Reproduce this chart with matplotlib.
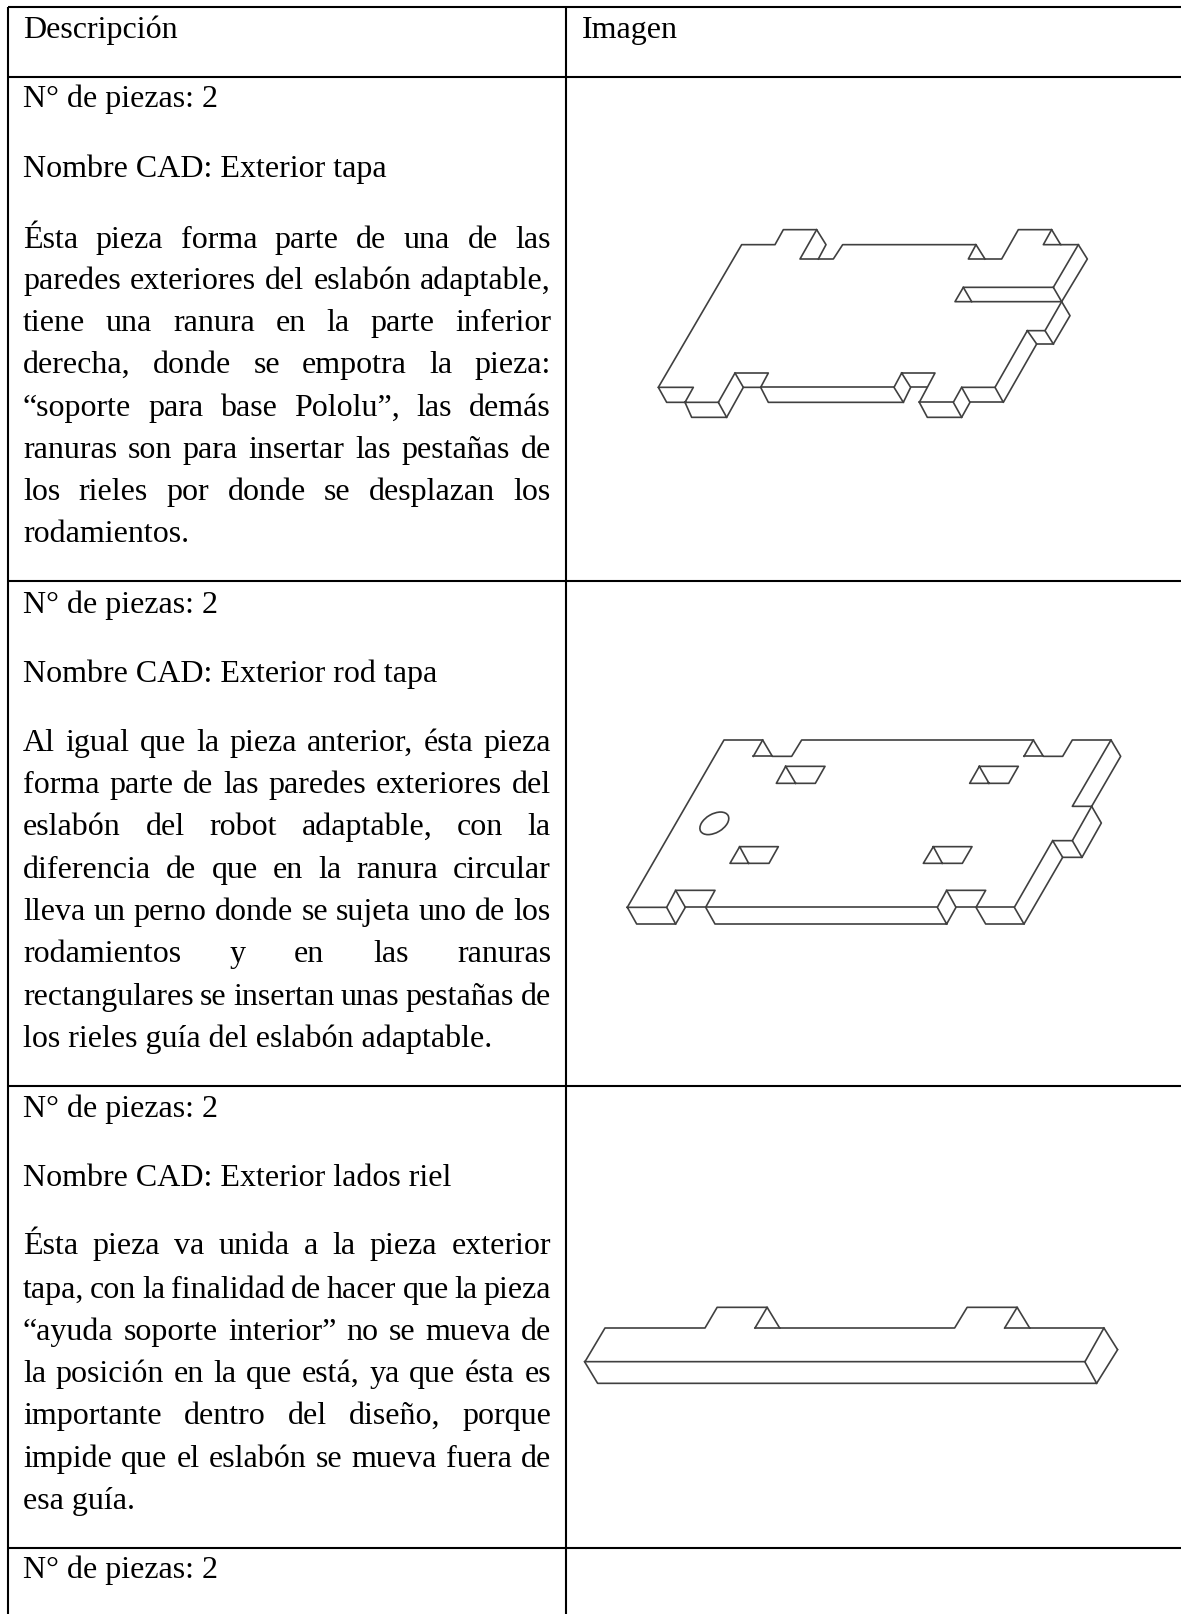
"""Tabla de piezas: descripcion + dibujo isometrico de cada pieza."""
import matplotlib
matplotlib.use("Agg")
import matplotlib.pyplot as plt
from matplotlib.patches import Ellipse

W, H = 1181, 1615
FONT = "Liberation Serif"
FS = 23
LEFT, RIGHT = 23, 551

# ── textos ──
HEAD_DESC = "Descripción"
HEAD_IMG = "Imagen"
N_PIEZAS = "N° de piezas: 2"
NOMBRES = ["Nombre CAD: Exterior tapa", "Nombre CAD: Exterior rod tapa", "Nombre CAD: Exterior lados riel"]
PARRAFO_1 = [
    "Ésta pieza forma parte de una de las",
    "paredes exteriores del eslabón adaptable,",
    "tiene una ranura en la parte inferior",
    "derecha, donde se empotra la pieza:",
    "“soporte para base Pololu”, las demás",
    "ranuras son para insertar las pestañas de",
    "los rieles por donde se desplazan los",
    "rodamientos.",
]
PARRAFO_2 = [
    "Al igual que la pieza anterior, ésta pieza",
    "forma parte de las paredes exteriores del",
    "eslabón del robot adaptable, con la",
    "diferencia de que en la ranura circular",
    "lleva un perno donde se sujeta uno de los",
    "rodamientos y en las ranuras",
    "rectangulares se insertan unas pestañas de",
    "los rieles guía del eslabón adaptable.",
]
PARRAFO_3 = [
    "Ésta pieza va unida a la pieza exterior",
    "tapa, con la finalidad de hacer que la pieza",
    "“ayuda soporte interior” no se mueva de",
    "la posición en la que está, ya que ésta es",
    "importante dentro del diseño, porque",
    "impide que el eslabón se mueva fuera de",
    "esa guía.",
]

# lineas base de cada bloque (px)
Y_HEAD = 38
Y_NPIEZAS = [107, 613, 1117, 1578]
Y_NOMBRE = [177, 682, 1186]
Y_PARRAFO = [
    [248, 289, 331, 373, 416, 458, 500, 542],
    [751, 793, 835, 878, 920, 962, 1005, 1047],
    [1254, 1298, 1340, 1382, 1424, 1467, 1509],
]

# rejilla de la tabla (px)
GRID_Y = [8, 78, 582, 1087, 1549]
GRID_X = [8, 566]

# ── dibujos: polilineas medidas en cada recorte ampliado ──
PIEZA_1 = [
    [(55, 625), (305, 197), (405, 197), (430, 152), (530, 152), (558, 197), (535, 240)],
    [(530, 152), (480, 240), (580, 240), (608, 197), (1008, 197), (1035, 240)],
    [(1008, 197), (985, 240), (1085, 240), (1135, 152), (1235, 152), (1262, 197), (1315, 197), (1342, 240), (1265, 368)],
    [(1235, 152), (1210, 197), (1262, 197)],
    [(1315, 197), (1240, 325), (970, 325), (945, 368), (1265, 368), (1240, 325)],
    [(970, 325), (995, 368)],
    [(1265, 368), (1290, 410), (1240, 495), (1190, 495)],
    [(1265, 368), (1215, 455), (1240, 495)],
    [(1215, 455), (1162, 455), (1190, 495), (1090, 670), (1065, 625), (1162, 455)],
    [(1065, 625), (965, 625), (990, 670), (965, 715), (862, 715), (838, 670), (885, 582), (785, 582), (762, 625), (790, 670), (812, 625), (785, 582)],
    [(965, 625), (940, 670), (965, 715)],
    [(940, 670), (838, 670)],
    [(1090, 670), (990, 670)],
    [(860, 625), (812, 625)],
    [(790, 670), (385, 670), (362, 625), (385, 582), (285, 582), (235, 670), (260, 715), (155, 715), (135, 670), (160, 625), (55, 625), (80, 670), (235, 670)],
    [(362, 625), (762, 625)],
    [(362, 625), (310, 625), (285, 582)],
    [(310, 625), (260, 715)],
]
PIEZA_2 = [
    [(52, 655), (342, 153), (458, 153), (487, 202), (545, 202), (575, 153), (1270, 153), (1300, 202), (1358, 202), (1387, 153), (1503, 153), (1532, 202), (1445, 352), (1474, 402), (1416, 505), (1358, 505)],
    [(430, 202), (458, 153)],
    [(430, 202), (487, 202)],
    [(1242, 202), (1270, 153)],
    [(1242, 202), (1300, 202)],
    [(1503, 153), (1387, 352), (1445, 352)],
    [(1445, 352), (1387, 455), (1416, 505)],
    [(1387, 455), (1328, 455), (1358, 505), (1242, 705), (1213, 655), (1328, 455)],
    [(52, 655), (170, 655), (197, 705), (80, 705), (52, 655)],
    [(170, 655), (197, 604), (226, 655), (197, 705)],
    [(197, 604), (315, 604), (287, 655), (315, 705), (1010, 705), (1038, 655), (1010, 604), (982, 655), (1010, 705)],
    [(226, 655), (982, 655)],
    [(1010, 604), (1127, 604), (1098, 655), (1127, 705), (1242, 705)],
    [(1038, 655), (1213, 655)],
    [(527, 232), (645, 232), (616, 283), (499, 283), (527, 232), (557, 283)],
    [(1108, 232), (1225, 232), (1196, 283), (1079, 283), (1108, 232), (1137, 283)],
    [(389, 473), (505, 473), (477, 523), (360, 523), (389, 473), (416, 523)],
    [(970, 473), (1086, 473), (1057, 523), (940, 523), (970, 473), (997, 523)],
]
PIEZA_3_SUP = [
    [(42, 548), (98, 447), (378, 447), (412, 385), (552, 385), (587, 447), (1077, 447), (1112, 385), (1252, 385), (1287, 447), (1495, 447), (1532, 510)],
    [(518, 447), (552, 385)],
    [(518, 447), (587, 447)],
    [(1217, 447), (1252, 385)],
    [(1217, 447), (1287, 447)],
    [(1495, 447), (1442, 548), (42, 548)],
]
PIEZA_3_INF = [
    [(62, 98), (95, 163), (1355, 163), (1325, 98)],
    [(1355, 163), (1408, 62)],
]

# (dibujo, origen x, origen y, escala x, escala y) del recorte
DIBUJOS = [
    (PIEZA_1, 640, 180, 3.0, 3.0),
    (PIEZA_2, 610, 690, 3.0, 3.0),
    (PIEZA_3_SUP, 570, 1180, 2.8, 3.0),
    (PIEZA_3_INF, 560, 1330, 2.525, 3.0),
]

LINE_COLOR = "#404040"
LINE_W = 1.2


def put_line(ax, renderer, text, y, justify):
    if not justify:
        ax.text(LEFT, y, text, family=FONT, fontsize=FS, va="baseline", ha="left", color="black")
        return
    words = text.split(" ")
    probe = ax.text(0, 0, "x", family=FONT, fontsize=FS)
    prop = probe.get_fontproperties()
    widths = [renderer.get_text_width_height_descent(w, prop, False)[0] for w in words]
    probe.remove()
    gap = (RIGHT - LEFT - sum(widths)) / (len(words) - 1)
    x = LEFT
    for w, wd in zip(words, widths):
        ax.text(x, y, w, family=FONT, fontsize=FS, va="baseline", ha="left", color="black")
        x += wd + gap


def main():
    fig = plt.figure(figsize=(W / 100, H / 100), dpi=100, facecolor="white")
    ax = fig.add_axes([0, 0, 1, 1])
    ax.set_xlim(0, W); ax.set_ylim(H, 0)
    ax.axis("off")
    renderer = fig.canvas.get_renderer()

    # rejilla
    for y in GRID_Y:
        ax.plot([GRID_X[0], W], [y, y], color="black", lw=1.5, solid_capstyle="butt")
    for x in GRID_X:
        ax.plot([x, x], [GRID_Y[0], H], color="black", lw=1.5, solid_capstyle="butt")

    # texto
    ax.text(LEFT, Y_HEAD, HEAD_DESC, family=FONT, fontsize=FS, va="baseline")
    ax.text(582, Y_HEAD, HEAD_IMG, family=FONT, fontsize=FS, va="baseline")
    for y in Y_NPIEZAS:
        put_line(ax, renderer, N_PIEZAS, y, False)
    for nombre, y in zip(NOMBRES, Y_NOMBRE):
        put_line(ax, renderer, nombre, y, False)
    for parrafo, ys in zip([PARRAFO_1, PARRAFO_2, PARRAFO_3], Y_PARRAFO):
        for i, (linea, y) in enumerate(zip(parrafo, ys)):
            put_line(ax, renderer, linea, y, i < len(parrafo) - 1)

    # dibujos
    for polys, ox, oy, sx, sy in DIBUJOS:
        for poly in polys:
            xs = [ox + p[0] / sx for p in poly]
            ys = [oy + p[1] / sy for p in poly]
            ax.plot(xs, ys, color=LINE_COLOR, lw=LINE_W, solid_joinstyle="round")
    # ranura circular de la pieza 2
    ax.add_patch(Ellipse((610 + 313 / 3, 690 + 403 / 3), 31.6, 18.6, angle=-30,
                         fill=False, edgecolor=LINE_COLOR, lw=LINE_W))

    fig.savefig("out.png", dpi=100, facecolor="white")
    plt.close(fig)


if __name__ == "__main__":
    raise SystemExit(main())
